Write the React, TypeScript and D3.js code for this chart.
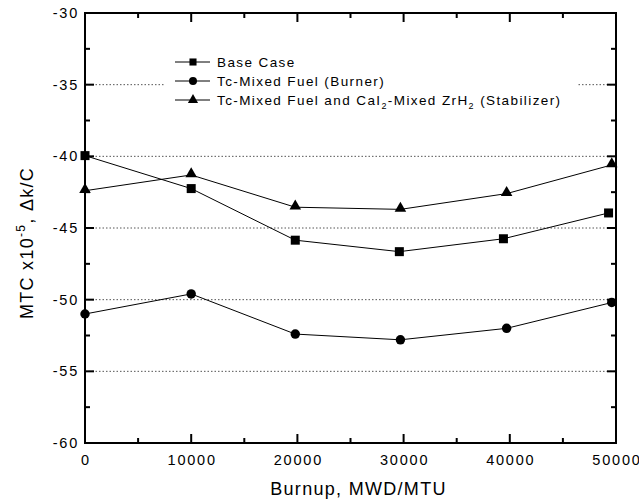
import React, { useEffect, useRef } from "react";
import * as d3 from "d3";

const baseX = [0, 10000, 19800, 29600, 39400, 49300];
const baseY = [-39.95, -42.25, -45.85, -46.65, -45.75, -43.95];
const burnerX = [0, 10000, 19800, 29700, 39700, 49600];
const burnerY = [-51.0, -49.6, -52.4, -52.8, -52.0, -50.2];
const stabX = [0, 10000, 19800, 29700, 39700, 49600];
const stabY = [-42.4, -41.3, -43.55, -43.7, -42.6, -40.6];
const xTicks = [0, 10000, 20000, 30000, 40000, 50000];
const yTicks = [-30, -35, -40, -45, -50, -55, -60];
const gridY = [-35, -40, -45, -50, -55];

const FONT = "Liberation Sans, Arial, Helvetica, sans-serif";

export default function App() {
  const ref = useRef<SVGSVGElement>(null);

  useEffect(() => {
    const svg = d3.select(ref.current);
    svg.selectAll("*").remove();

    const left = 85, right = 616, top = 13, bottom = 443;
    const x = d3.scaleLinear().domain([0, 50000]).range([left, right]);
    const y = d3.scaleLinear().domain([-60, -30]).range([bottom, top]);

    // dotted grid
    svg.append("g")
      .selectAll("line")
      .data(gridY)
      .enter()
      .append("line")
      .attr("x1", left)
      .attr("x2", right)
      .attr("y1", (d) => y(d))
      .attr("y2", (d) => y(d))
      .attr("stroke", "#555")
      .attr("stroke-width", 1)
      .attr("stroke-dasharray", "1.5,2");

    // legend background (covers grid)
    svg.append("rect")
      .attr("x", 164)
      .attr("y", 50)
      .attr("width", 413)
      .attr("height", 60)
      .attr("fill", "white");

    // ticks on all four sides, pointing in
    const tk = 9, mtk = 5;
    const xMinor = d3.range(5000, 50000, 10000);
    const yMinor = d3.range(-57.5, -30, 5);
    const g = svg.append("g");
    const tick = (x1: number, y1: number, x2: number, y2: number) =>
      g.append("line")
        .attr("x1", x1).attr("y1", y1).attr("x2", x2).attr("y2", y2)
        .attr("stroke", "black").attr("stroke-width", 2);
    xTicks.forEach((v) => {
      tick(x(v), bottom, x(v), bottom - tk);
      tick(x(v), top, x(v), top + tk);
    });
    xMinor.forEach((v) => {
      tick(x(v), bottom, x(v), bottom - mtk);
      tick(x(v), top, x(v), top + mtk);
    });
    yTicks.forEach((v) => {
      tick(left, y(v), left + tk, y(v));
      tick(right, y(v), right - tk, y(v));
    });
    yMinor.forEach((v) => {
      tick(left, y(v), left + mtk, y(v));
      tick(right, y(v), right - mtk, y(v));
    });

    // frame
    svg.append("rect")
      .attr("x", left)
      .attr("y", top)
      .attr("width", right - left)
      .attr("height", bottom - top)
      .attr("fill", "none")
      .attr("stroke", "black")
      .attr("stroke-width", 2);

    // tick labels
    svg.append("g")
      .selectAll("text")
      .data(xTicks)
      .enter()
      .append("text")
      .attr("x", (d) => x(d) + 1)
      .attr("y", bottom + 22)
      .attr("text-anchor", "middle")
      .style("font-family", FONT)
      .style("font-size", "14.5px")
      .style("letter-spacing", "1.8px")
      .text((d) => String(d));

    svg.append("g")
      .selectAll("text")
      .data(yTicks)
      .enter()
      .append("text")
      .attr("x", left - 6)
      .attr("y", (d) => y(d) + 5)
      .attr("text-anchor", "end")
      .style("font-family", FONT)
      .style("font-size", "14.5px")
      .style("letter-spacing", "1.8px")
      .text((d) => String(d));

    // axis titles
    svg.append("text")
      .attr("x", (left + right) / 2 + 8)
      .attr("y", 495)
      .attr("text-anchor", "middle")
      .style("font-family", FONT)
      .style("font-size", "18px")
      .style("letter-spacing", "1.3px")
      .text("Burnup, MWD/MTU");

    const yt = svg.append("text")
      .attr("transform", `translate(33,243) rotate(-90)`)
      .attr("text-anchor", "middle")
      .style("font-family", FONT)
      .style("font-size", "18px")
      .style("letter-spacing", "1.3px");
    yt.append("tspan").text("MTC x10");
    yt.append("tspan").attr("dy", -8).style("font-size", "12px").text("-5");
    yt.append("tspan").attr("dy", 8).text(", \u0394k/C");

    // series
    const series = [
      { xs: baseX, ys: baseY, shape: "square" },
      { xs: burnerX, ys: burnerY, shape: "circle" },
      { xs: stabX, ys: stabY, shape: "triangle" },
    ];
    const symbolFor = (shape: string) =>
      shape === "square"
        ? d3.symbol().type(d3.symbolSquare).size(81)
        : shape === "circle"
        ? d3.symbol().type(d3.symbolCircle).size(70)
        : d3.symbol().type(d3.symbolTriangle).size(58);

    const line = d3.line<[number, number]>().x((d) => x(d[0])).y((d) => y(d[1]));
    series.forEach((s) => {
      const pts: [number, number][] = s.xs.map((v, i) => [v, s.ys[i]]);
      svg.append("path")
        .attr("d", line(pts))
        .attr("fill", "none")
        .attr("stroke", "black")
        .attr("stroke-width", 1);
      svg.append("g")
        .selectAll("path")
        .data(pts)
        .enter()
        .append("path")
        .attr("d", symbolFor(s.shape)())
        .attr("transform", (d) => `translate(${x(d[0])},${y(d[1]) + (s.shape === "triangle" ? -1 : 0)})`)
        .attr("fill", "black");
    });

    // legend
    const legendRows = [
      { shape: "square", label: ["Base Case"] },
      { shape: "circle", label: ["Tc-Mixed Fuel (Burner)"] },
      { shape: "triangle", label: ["Tc-Mixed Fuel and CaI", "2", "-Mixed ZrH", "2", " (Stabilizer)"] },
    ];
    const rowY = [62, 81, 100];
    legendRows.forEach((r, i) => {
      const ly = rowY[i];
      svg.append("line")
        .attr("x1", 175).attr("x2", 210)
        .attr("y1", ly).attr("y2", ly)
        .attr("stroke", "black").attr("stroke-width", 1);
      const sz = r.shape === "square" ? 50 : r.shape === "circle" ? 50 : 45;
      const sym = r.shape === "square" ? d3.symbolSquare : r.shape === "circle" ? d3.symbolCircle : d3.symbolTriangle;
      svg.append("path")
        .attr("d", d3.symbol().type(sym).size(sz)())
        .attr("transform", `translate(193,${ly})`)
        .attr("fill", "black");
      const t = svg.append("text")
        .attr("x", 217)
        .attr("y", ly + 5)
        .style("font-family", FONT)
        .style("font-size", "13.5px")
        .style("letter-spacing", "1.4px");
      r.label.forEach((part, j) => {
        if (j % 2 === 1) {
          t.append("tspan").attr("dy", 4).style("font-size", "9px").text(part);
        } else {
          t.append("tspan").attr("dy", j === 0 ? 0 : -4).text(part);
        }
      });
    });
  }, []);

  return (
    <svg ref={ref} width={639} height={503} style={{ position: "absolute", left: 0, top: 0, background: "white" }} />
  );
}
